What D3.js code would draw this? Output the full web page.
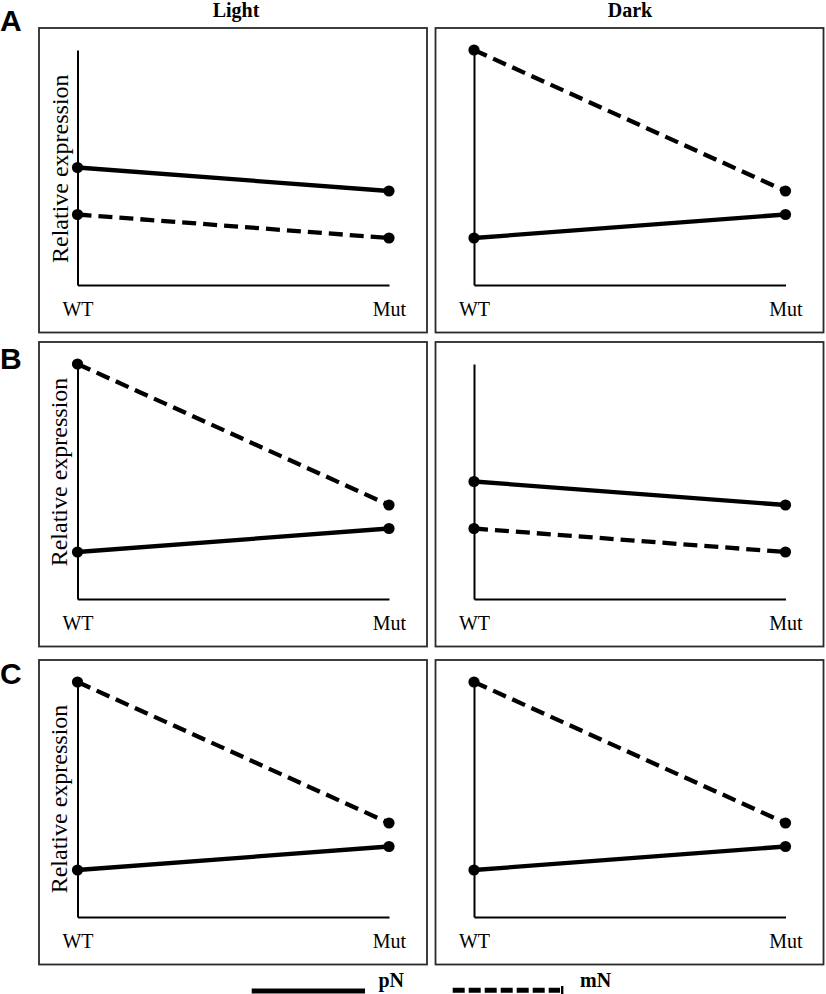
<!DOCTYPE html>
<html>
<head>
<meta charset="utf-8">
<script src="https://cdn.jsdelivr.net/npm/d3@7"></script>
<style>
  html, body { margin: 0; padding: 0; background: #fff; }
  svg { display: block; }
</style>
</head>
<body>
<script>
// ---------------- DATA ----------------
const genotypes = ["WT", "Mut"];
const conditions = ["Light", "Dark"];
const panelLabels = ["A", "B", "C"];
const seriesNames = ["pN", "mN"];
const yLabel = "Relative expression";

// rows: A, B, C ; values per genotype [WT, Mut]
const pN_Light = [[5, 4], [2, 3], [2, 3]];
const mN_Light = [[3, 2], [10, 4], [10, 4]];
const pN_Dark  = [[2, 3], [5, 4], [2, 3]];
const mN_Dark  = [[10, 4], [3, 2], [10, 4]];
const yDomain = [0, 10];

// ---------------- LAYOUT ----------------
const W = 826, H = 994;
const colX = [39, 435.5];
const boxW = 388;
const rowY = [28, 342, 660];
const boxH = 304.5;
const labelBaseline = [31, 369, 684];
const yLabelCenter = [168.7, 472, 799];
const yLabelX = [68, 66.7, 66.7];
const titleX = [236, 630];

const svg = d3.select("body").append("svg")
  .attr("width", W).attr("height", H);

const serif = "'Liberation Serif', 'Times New Roman', Times, serif";
const sans = "'Liberation Sans', Arial, Helvetica, sans-serif";

// column titles
conditions.forEach((c, ci) => {
  svg.append("text")
    .attr("x", titleX[ci]).attr("y", 17)
    .attr("text-anchor", "middle")
    .attr("font-family", serif).attr("font-weight", "bold")
    .attr("font-size", 20).attr("fill", "#000")
    .text(c);
});

const dataFor = (ci, ri) => ci === 0
  ? { pN: pN_Light[ri], mN: mN_Light[ri] }
  : { pN: pN_Dark[ri], mN: mN_Dark[ri] };

panelLabels.forEach((lab, ri) => {
  // panel letter
  svg.append("text")
    .attr("x", 0).attr("y", labelBaseline[ri])
    .attr("font-family", sans).attr("font-weight", "bold")
    .attr("font-size", 30).attr("fill", "#000")
    .text(lab);

  conditions.forEach((cond, ci) => {
    const bx = colX[ci], by = rowY[ri];
    const g = svg.append("g");

    g.append("rect")
      .attr("x", bx).attr("y", by)
      .attr("width", boxW).attr("height", boxH)
      .attr("fill", "none").attr("stroke", "#2a2a2a").attr("stroke-width", 1.8);

    const x0 = bx + 38.5, x1 = bx + 350;
    const yTop = by + 22, yBot = by + 257;

    const x = d3.scalePoint().domain(genotypes).range([x0, x1]);
    const y = d3.scaleLinear().domain(yDomain).range([yBot, yTop]);

    // x axis
    const xa = g.append("g")
      .attr("transform", `translate(0,${yBot})`)
      .call(d3.axisBottom(x).tickSize(0).tickSizeOuter(0).tickPadding(16.3));
    xa.select(".domain").attr("stroke", "#000").attr("stroke-width", 2);
    xa.selectAll("text")
      .attr("font-family", serif).attr("font-size", 20).attr("fill", "#000");

    // y axis
    const ya = g.append("g")
      .attr("transform", `translate(${x0},0)`)
      .call(d3.axisLeft(y).tickValues([]).tickSizeOuter(0));
    ya.select(".domain").attr("stroke", "#000").attr("stroke-width", 2);

    if (ci === 0) {
      g.append("text")
        .attr("transform", `translate(${yLabelX[ri]},${yLabelCenter[ri]}) rotate(-90)`)
        .attr("text-anchor", "middle")
        .attr("font-family", serif).attr("font-size", 24).attr("fill", "#000")
        .text(yLabel);
    }

    const d = dataFor(ci, ri);
    const line = d3.line().x((v, i) => x(genotypes[i])).y(v => y(v));

    seriesNames.forEach(s => {
      g.append("path")
        .datum(d[s])
        .attr("d", line)
        .attr("fill", "none")
        .attr("stroke", "#000")
        .attr("stroke-width", 4.3)
        .attr("stroke-dasharray", s === "mN" ? "14,7" : null);
      g.selectAll(null)
        .data(d[s])
        .enter().append("circle")
        .attr("cx", (v, i) => x(genotypes[i]))
        .attr("cy", v => y(v))
        .attr("r", 5.6)
        .attr("fill", "#000");
    });
  });
});

// legend
const leg = svg.append("g");
leg.append("line")
  .attr("x1", 251.7).attr("x2", 365).attr("y1", 991).attr("y2", 991)
  .attr("stroke", "#000").attr("stroke-width", 5);
leg.append("text")
  .attr("x", 378.5).attr("y", 986.5)
  .attr("font-family", serif).attr("font-weight", "bold")
  .attr("font-size", 20).attr("fill", "#000")
  .text(seriesNames[0]);
leg.append("line")
  .attr("x1", 452.7).attr("x2", 560).attr("y1", 990.2).attr("y2", 990.2)
  .attr("stroke", "#000").attr("stroke-width", 5)
  .attr("stroke-dasharray", "12,4");
leg.append("rect")
  .attr("x", 561).attr("y", 986).attr("width", 2.4).attr("height", 8)
  .attr("fill", "#000");
leg.append("text")
  .attr("x", 580).attr("y", 986.5)
  .attr("font-family", serif).attr("font-weight", "bold")
  .attr("font-size", 20).attr("fill", "#000")
  .text(seriesNames[1]);
</script>
</body>
</html>
